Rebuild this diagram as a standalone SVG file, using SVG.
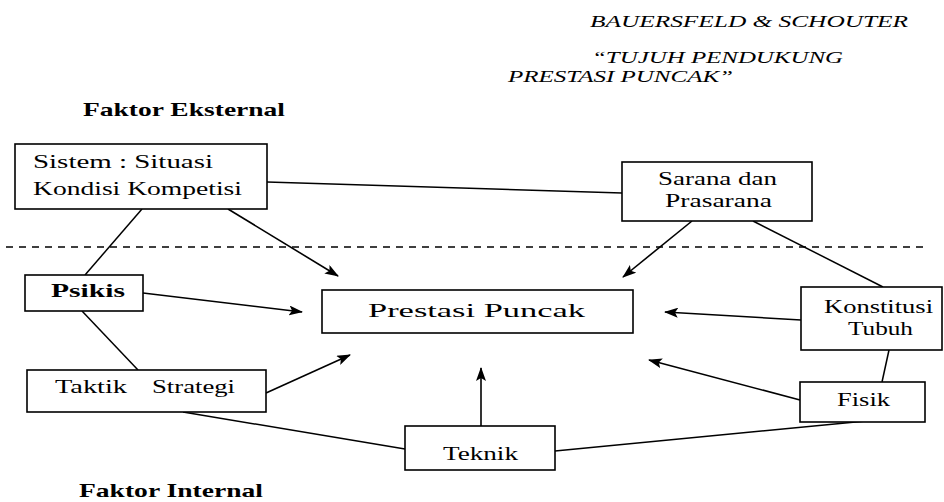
<svg xmlns="http://www.w3.org/2000/svg" width="944" height="502" viewBox="0 0 944 502">
<style>
.box{fill:#fff;stroke:#000;stroke-width:1.6}
.ln{stroke:#000;stroke-width:1.5;fill:none}
.ar{stroke:#000;stroke-width:1.6;fill:none;marker-end:url(#ah)}
.t{font-family:"Liberation Serif",serif;fill:#000;font-size:19px}
.h{font-family:"Liberation Serif",serif;font-style:italic;font-size:16px;fill:#000}
.b{font-family:"Liberation Serif",serif;font-weight:bold;font-size:19px;fill:#000}
</style>
<defs>
<marker id="ah" viewBox="0 0 14 10" refX="13" refY="5" markerWidth="14" markerHeight="10" markerUnits="userSpaceOnUse" orient="auto">
<path d="M0,0 L14,5 L0,10 L3,5 Z" fill="#000"/>
</marker>
</defs>
<g id="header">
<text class="h" x="590" y="27" textLength="318" lengthAdjust="spacingAndGlyphs">BAUERSFELD &amp; SCHOUTER</text>
<text class="h" x="592" y="63" textLength="251" lengthAdjust="spacingAndGlyphs">“TUJUH PENDUKUNG</text>
<text class="h" x="508" y="82" textLength="225" lengthAdjust="spacingAndGlyphs">PRESTASI PUNCAK”</text>
</g>
<g id="label-eksternal"><text class="b" x="83" y="116" textLength="202" lengthAdjust="spacingAndGlyphs">Faktor Eksternal</text></g>
<g id="label-internal"><text class="b" x="79" y="497" textLength="184" lengthAdjust="spacingAndGlyphs">Faktor Internal</text></g>
<g id="divider"><line x1="6" y1="247" x2="923" y2="247" stroke="#000" stroke-width="1.3" stroke-dasharray="7,6"/></g>
<g id="connectors">
<line class="ln" x1="267" y1="182" x2="622" y2="193"/>
<line class="ln" x1="142" y1="209" x2="85" y2="275"/>
<line class="ln" x1="82" y1="311" x2="138" y2="370"/>
<line class="ln" x1="753" y1="221" x2="883" y2="287"/>
<line class="ln" x1="889" y1="350" x2="882" y2="382"/>
<line class="ln" x1="183" y1="412" x2="405" y2="449"/>
<line class="ln" x1="555" y1="451" x2="866" y2="421"/>
<line class="ar" x1="228" y1="209" x2="338" y2="276"/>
<line class="ar" x1="692" y1="221" x2="623" y2="277"/>
<line class="ar" x1="143" y1="293" x2="302" y2="312"/>
<line class="ar" x1="801" y1="320" x2="665" y2="312"/>
<line class="ar" x1="266" y1="393" x2="350" y2="355"/>
<line class="ar" x1="800" y1="400" x2="649" y2="360"/>
<line class="ar" x1="481" y1="426" x2="481" y2="368"/>
</g>
<g id="node-sistem">
<rect class="box" x="15" y="144" width="252" height="65"/>
<text class="t" x="33" y="168" textLength="180" lengthAdjust="spacingAndGlyphs">Sistem : Situasi</text>
<text class="t" x="33" y="195" textLength="209" lengthAdjust="spacingAndGlyphs">Kondisi Kompetisi</text>
</g>
<g id="node-sarana">
<rect class="box" x="622" y="162" width="190" height="59"/>
<text class="t" x="658" y="185" textLength="119" lengthAdjust="spacingAndGlyphs">Sarana dan</text>
<text class="t" x="665" y="207" textLength="107" lengthAdjust="spacingAndGlyphs">Prasarana</text>
</g>
<g id="node-psikis">
<rect class="box" x="25" y="275" width="118" height="36"/>
<text class="t" x="51" y="297" textLength="74" lengthAdjust="spacingAndGlyphs" font-weight="bold">Psikis</text>
</g>
<g id="node-prestasi">
<rect class="box" x="322" y="290" width="311" height="43"/>
<text class="t" x="368" y="317" font-size="25" textLength="217" lengthAdjust="spacingAndGlyphs">Prestasi Puncak</text>
</g>
<g id="node-konstitusi">
<rect class="box" x="801" y="287" width="141" height="63"/>
<text class="t" x="824" y="313" textLength="109" lengthAdjust="spacingAndGlyphs">Konstitusi</text>
<text class="t" x="848" y="335" textLength="65" lengthAdjust="spacingAndGlyphs">Tubuh</text>
</g>
<g id="node-taktik">
<rect class="box" x="27" y="370" width="239" height="42"/>
<text class="t" x="55" y="393"><tspan textLength="72" lengthAdjust="spacingAndGlyphs">Taktik</tspan><tspan x="152" textLength="83" lengthAdjust="spacingAndGlyphs">Strategi</tspan></text>
</g>
<g id="node-fisik">
<rect class="box" x="800" y="382" width="125" height="40"/>
<text class="t" x="837" y="406" textLength="53" lengthAdjust="spacingAndGlyphs">Fisik</text>
</g>
<g id="node-teknik">
<rect class="box" x="405" y="426" width="150" height="44"/>
<text class="t" x="443" y="460" textLength="75" lengthAdjust="spacingAndGlyphs">Teknik</text>
</g>
</svg>
